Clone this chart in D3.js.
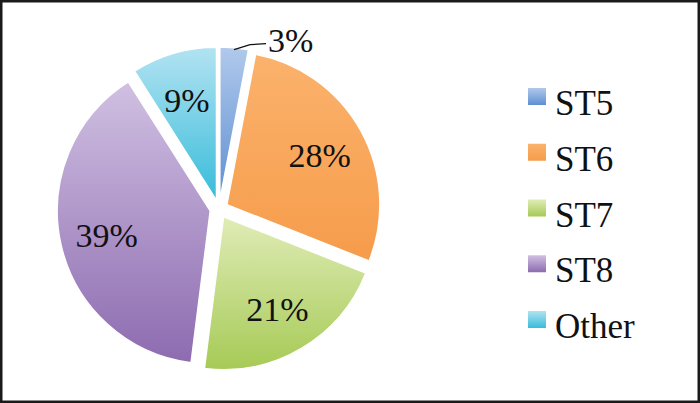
<!DOCTYPE html>
<html><head><meta charset="utf-8">
<script src="https://cdn.jsdelivr.net/npm/d3@7"></script>
<style>html,body{margin:0;padding:0;background:#fff;}svg{display:block;}</style>
</head><body><svg id="c" width="700" height="403"></svg>
<script>
const categories = ["ST5", "ST6", "ST7", "ST8", "Other"];
const values = [3, 28, 21, 39, 9];
const labels = ["3%", "28%", "21%", "39%", "9%"];
const topColors = ["#b0c9ec", "#fbb26c", "#e0ecb6", "#d0c0e2", "#b2e3f2"];
const bottomColors = ["#5f8fd0", "#f69c4b", "#a6ca56", "#8d6bb0", "#38bcda"];

const svg = d3.select("#c");
const W = 700, H = 403;
svg.append("rect").attr("x", 0).attr("y", 0).attr("width", W).attr("height", H).attr("fill", "#fff");

const defs = svg.append("defs");
categories.forEach((c, i) => {
  const g = defs.append("linearGradient").attr("id", "g" + i)
    .attr("x1", 0).attr("y1", 0).attr("x2", 0).attr("y2", 1);
  g.append("stop").attr("offset", "0%").attr("stop-color", topColors[i]);
  g.append("stop").attr("offset", "100%").attr("stop-color", bottomColors[i]);
});

const cx = 219, cy = 209, R = 153, explode = 9;
const pie = d3.pie().sort(null).value(d => d)(values);
const arc = d3.arc().innerRadius(0).outerRadius(R);
const labelArc = d3.arc().innerRadius(106).outerRadius(106);

const gPie = svg.append("g").attr("transform", `translate(${cx},${cy})`);
const slices = gPie.selectAll("g.s").data(pie).join("g").attr("class", "s")
  .attr("transform", d => {
    const m = (d.startAngle + d.endAngle) / 2;
    return `translate(${explode * Math.sin(m)},${-explode * Math.cos(m)})`;
  });
slices.append("path").attr("d", arc)
  .attr("fill", (d, i) => `url(#g${i})`)
  .attr("stroke", "#fff").attr("stroke-width", 1.5);

const font = "'Liberation Serif', 'Times New Roman', serif";
slices.each(function(d, i) {
  const g = d3.select(this);
  if (i === 0) {
    const m = (d.startAngle + d.endAngle) / 2;
    const p0 = [ (R - 2) * Math.sin(m), -(R - 2) * Math.cos(m) ];
    const p1 = [p0[0] + 16, p0[1] - 5];
    const p2 = [p1[0] + 16, p1[1] - 1];
    g.append("path").attr("d", d3.line()([p0, p1, p2]))
      .attr("fill", "none").attr("stroke", "#111").attr("stroke-width", 1.3);
    g.append("text").attr("x", p2[0] + 2).attr("y", p2[1] + 8)
      .attr("font-family", font).attr("font-size", 34).attr("fill", "#111")
      .text(labels[i]);
  } else {
    const c = labelArc.centroid(d);
    g.append("text").attr("x", c[0]).attr("y", c[1] + 13)
      .attr("text-anchor", "middle")
      .attr("font-family", font).attr("font-size", 34).attr("fill", "#111")
      .text(labels[i]);
  }
});

// legend
const ly = d3.scalePoint().domain(categories).range([102, 325]);
const leg = svg.append("g");
const items = leg.selectAll("g").data(categories).join("g")
  .attr("transform", d => `translate(528,${ly(d)})`);
items.append("rect").attr("x", 0).attr("y", -14).attr("width", 18).attr("height", 17)
  .attr("fill", (d, i) => `url(#g${i})`);
items.append("text").attr("x", 27).attr("y", 13)
  .attr("font-family", font).attr("font-size", 35).attr("fill", "#111")
  .text(d => d);

// border
svg.append("rect").attr("x", 1.25).attr("y", 1.25).attr("width", W - 2.5).attr("height", H - 2.5)
  .attr("fill", "none").attr("stroke", "#1a1a1a").attr("stroke-width", 2.5);
</script></body></html>
